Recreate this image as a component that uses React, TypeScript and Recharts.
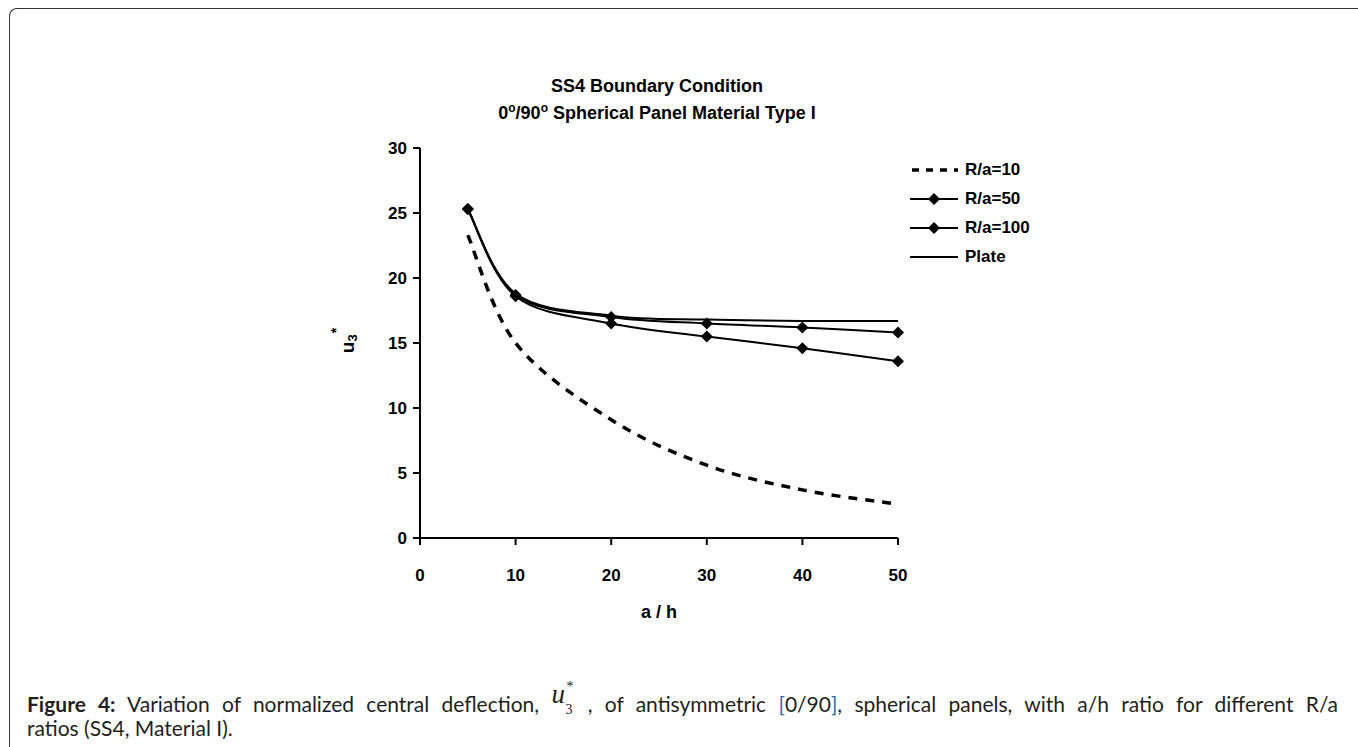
import React from "react";
import { LineChart, Line, XAxis, YAxis } from "recharts";

// a/h ratios along the x axis
const aOverH = [5, 10, 20, 30, 40, 50];
// normalized central deflection u3* for each case
const ra10 = [23.3, 15.0, 9.1, 5.6, 3.7, 2.6];
const ra50 = [25.3, 18.6, 16.5, 15.5, 14.6, 13.6];
const ra100 = [25.3, 18.7, 17.0, 16.5, 16.2, 15.8];
const plate = [25.3, 18.8, 17.1, 16.8, 16.7, 16.7];

const xTicks = [0, 10, 20, 30, 40, 50];
const yTicks = [0, 5, 10, 15, 20, 25, 30];
const seriesNames = ["R/a=10", "R/a=50", "R/a=100", "Plate"];

const data = aOverH.map((x, i) => ({
  x,
  ra10: ra10[i],
  ra50: ra50[i],
  ra100: ra100[i],
  plate: plate[i],
}));

const ARIAL = "'Liberation Sans', Arial, sans-serif";
const BLUE = "#2f6fa6";

// Excel-like smoothed line (Catmull-Rom through the points)
const smoothCurve = (context: any) => {
  let pts: number[][] = [];
  return {
    areaStart() {},
    areaEnd() {},
    lineStart() {
      pts = [];
    },
    point(x: number, y: number) {
      pts.push([+x, +y]);
    },
    lineEnd() {
      if (!pts.length) return;
      context.moveTo(pts[0][0], pts[0][1]);
      for (let i = 0; i < pts.length - 1; i++) {
        const p0 = pts[i - 1] || pts[i];
        const p1 = pts[i];
        const p2 = pts[i + 1];
        const p3 = pts[i + 2] || p2;
        context.bezierCurveTo(
          p1[0] + (p2[0] - p0[0]) / 6,
          p1[1] + (p2[1] - p0[1]) / 6,
          p2[0] - (p3[0] - p1[0]) / 6,
          p2[1] - (p3[1] - p1[1]) / 6,
          p2[0],
          p2[1]
        );
      }
    },
  };
};

const Diamond = ({ cx, cy }: { cx?: number; cy?: number }) => {
  if (cx == null || cy == null) return null;
  const r = 6;
  return (
    <path
      d={`M${cx},${cy - r}L${cx + r},${cy}L${cx},${cy + r}L${cx - r},${cy}Z`}
      fill="#000"
    />
  );
};

const renderDiamond = (p: any) => <Diamond key={`d-${p.index}`} cx={p.cx} cy={p.cy} />;

const tickStyle = { fill: "#000", fontSize: 17, fontWeight: 700, fontFamily: ARIAL };

// legend sample drawings
const LegendSample = ({ kind }: { kind: number }) => (
  <svg width={48} height={14} style={{ display: "block" }}>
    {kind === 0 ? (
      <line x1={2} y1={7} x2={48} y2={7} stroke="#000" strokeWidth={3.5} strokeDasharray="7 7" />
    ) : (
      <line x1={0} y1={7} x2={48} y2={7} stroke="#000" strokeWidth={2} />
    )}
    {(kind === 1 || kind === 2) && <path d="M24,1L30,7L24,13L18,7Z" fill="#000" />}
  </svg>
);

const sup = { fontSize: 12, position: "relative" as const, top: -7 };

export default function App() {
  return (
    <div
      style={{
        position: "absolute",
        left: 0,
        top: 0,
        width: 1358,
        height: 747,
        overflow: "hidden",
        background: "#fff",
      }}
    >
      {/* figure frame */}
      <div
        style={{
          position: "absolute",
          left: 9,
          top: 8,
          width: 1400,
          height: 800,
          borderLeft: "1.5px solid #333",
          borderTop: "1.5px solid #333",
          borderTopLeftRadius: 8,
        }}
      />

      {/* title */}
      <div
        style={{
          position: "absolute",
          left: 457,
          width: 400,
          top: 73,
          textAlign: "center",
          fontFamily: ARIAL,
          fontWeight: 700,
          fontSize: 18,
          lineHeight: "27px",
          color: "#000",
        }}
      >
        <div>SS4 Boundary Condition</div>
        <div>
          0<span style={sup}>o</span>/90<span style={sup}>o</span> Spherical Panel Material Type I
        </div>
      </div>

      <div style={{ position: "absolute", left: 0, top: 0 }}>
        <LineChart
          width={1358}
          height={747}
          data={data}
          margin={{ top: 148, right: 460, bottom: 149, left: 360 }}
        >
          <XAxis
            dataKey="x"
            type="number"
            domain={[0, 50]}
            ticks={xTicks}
            tick={tickStyle}
            tickSize={7}
            tickMargin={24}
            height={60}
            axisLine={{ stroke: "#000", strokeWidth: 2 }}
            tickLine={{ stroke: "#000", strokeWidth: 2 }}
          />
          <YAxis
            type="number"
            domain={[0, 30]}
            ticks={yTicks}
            tick={tickStyle}
            tickSize={7}
            tickMargin={6}
            width={60}
            axisLine={{ stroke: "#000", strokeWidth: 2 }}
            tickLine={{ stroke: "#000", strokeWidth: 2 }}
          />
          <Line
            dataKey="ra10"
            name={seriesNames[0]}
            type={smoothCurve as any}
            stroke="#000"
            strokeWidth={3.5}
            strokeDasharray="9 8"
            dot={false}
            isAnimationActive={false}
          />
          <Line
            dataKey="plate"
            name={seriesNames[3]}
            type={smoothCurve as any}
            stroke="#000"
            strokeWidth={2}
            dot={false}
            isAnimationActive={false}
          />
          <Line
            dataKey="ra100"
            name={seriesNames[2]}
            type={smoothCurve as any}
            stroke="#000"
            strokeWidth={2}
            dot={renderDiamond}
            isAnimationActive={false}
          />
          <Line
            dataKey="ra50"
            name={seriesNames[1]}
            type={smoothCurve as any}
            stroke="#000"
            strokeWidth={2}
            dot={renderDiamond}
            isAnimationActive={false}
          />
        </LineChart>
      </div>

      {/* y axis title */}
      <div
        style={{
          position: "absolute",
          left: 318,
          top: 328,
          width: 60,
          height: 26,
          transform: "rotate(-90deg)",
          transformOrigin: "center",
          fontFamily: ARIAL,
          fontWeight: 700,
          fontSize: 19,
          lineHeight: "26px",
          textAlign: "center",
          color: "#000",
          whiteSpace: "nowrap",
        }}
      >
        u<span style={{ fontSize: 13, position: "relative", top: 3 }}>3</span>
        <span style={{ fontSize: 14, position: "relative", top: -13, left: 1 }}>*</span>
      </div>

      {/* x axis title */}
      <div
        style={{
          position: "absolute",
          left: 609,
          width: 100,
          top: 600,
          textAlign: "center",
          fontFamily: ARIAL,
          fontWeight: 700,
          fontSize: 18,
          lineHeight: "24px",
          color: "#000",
        }}
      >
        a / h
      </div>

      {/* legend */}
      <div style={{ position: "absolute", left: 910, top: 155 }}>
        {seriesNames.map((name, i) => (
          <div
            key={name}
            style={{
              display: "flex",
              alignItems: "center",
              height: 29,
              gap: 7,
              fontFamily: ARIAL,
              fontWeight: 700,
              fontSize: 17,
              color: "#000",
            }}
          >
            <LegendSample kind={i} />
            <span>{name}</span>
          </div>
        ))}
      </div>

      {/* caption */}
      <div
        style={{
          position: "absolute",
          left: 27,
          top: 692,
          width: 1311,
          fontFamily: "Lato, 'Open Sans', sans-serif",
          fontSize: 21,
          lineHeight: "24px",
          color: "#231f20",
        }}
      >
        <div style={{ textAlign: "justify", textAlignLast: "justify", whiteSpace: "nowrap" }}>
          <b>Figure 4:</b> Variation of normalized central deflection,{" "}
          <span style={{ position: "relative", display: "inline-block", width: 24, height: 20 }}>
            <span
              style={{
                position: "absolute",
                left: 0,
                top: -10,
                fontFamily: "'Liberation Serif', serif",
                fontStyle: "italic",
                fontSize: 27,
              }}
            >
              u
            </span>
            <span
              style={{
                position: "absolute",
                left: 14,
                top: 6,
                fontFamily: "'Liberation Serif', serif",
                fontSize: 14,
              }}
            >
              3
            </span>
            <span
              style={{
                position: "absolute",
                left: 15,
                top: -17,
                fontFamily: "'Liberation Serif', serif",
                fontSize: 14,
              }}
            >
              *
            </span>
          </span>{" "}
          , of antisymmetric <span style={{ color: BLUE }}>[</span>0/90
          <span style={{ color: BLUE }}>]</span>, spherical panels, with a/h ratio for different R/a
        </div>
        <div>ratios (SS4, Material I).</div>
      </div>
    </div>
  );
}
